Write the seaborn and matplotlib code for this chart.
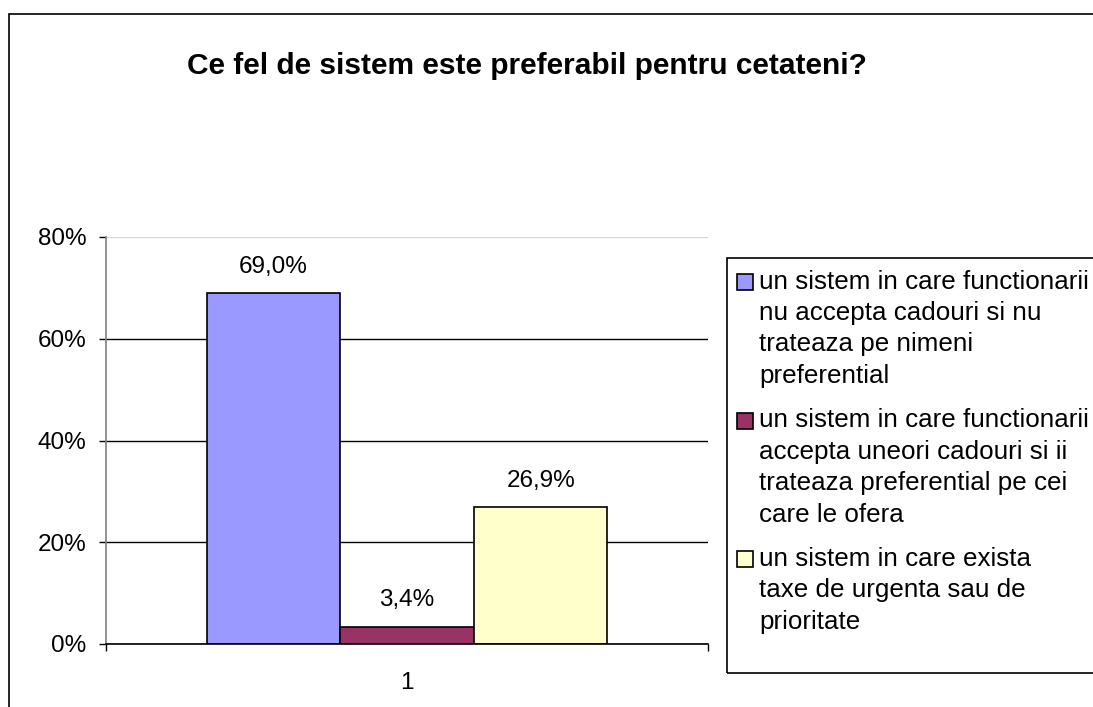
import pandas as pd
import seaborn as sns
import matplotlib.pyplot as plt
from matplotlib.patches import Rectangle
from matplotlib.ticker import PercentFormatter, FixedLocator

# Chart data
title = 'Ce fel de sistem este preferabil pentru cetateni?'
category = ['1', '1', '1']
options = [
    'un sistem in care functionarii\nnu accepta cadouri si nu\ntrateaza pe nimeni\npreferential',
    'un sistem in care functionarii\naccepta uneori cadouri si ii\ntrateaza preferential pe cei\ncare le ofera',
    'un sistem in care exista\ntaxe de urgenta sau de\nprioritate',
]
shares = [0.690, 0.034, 0.269]
value_labels = ['69,0%', '3,4%', '26,9%']
colors = ['#9999FF', '#993366', '#FFFFCC']
yticks = [0, 0.2, 0.4, 0.6, 0.8]

df = pd.DataFrame({'category': category, 'option': options, 'share': shares})

sns.set_theme(style='white')
plt.rcParams['font.family'] = ['Liberation Sans', 'DejaVu Sans']
plt.rcParams['text.color'] = 'black'
plt.rcParams['xtick.color'] = 'black'
plt.rcParams['ytick.color'] = 'black'

W, H = 1093, 707
fig = plt.figure(figsize=(W / 100, H / 100), dpi=100)


def fx(x):
    return x / W


def fy(y):
    return 1 - y / H


# outer chart border (cut off at right and bottom)
fig.patches.append(Rectangle((fx(8.5), fy(720)), fx(1100) - fx(8.5), fy(13.5) - fy(720),
                             transform=fig.transFigure, fill=False,
                             edgecolor='black', linewidth=1.2))

ax = fig.add_axes([fx(106), fy(644), fx(708) - fx(106), fy(237) - fy(644)])
sns.barplot(data=df, x='category', y='share', hue='option', palette=colors,
            saturation=1, width=0.666, gap=0, edgecolor='black', linewidth=1.2,
            legend=False, ax=ax)

for cont, lab in zip(ax.containers, value_labels):
    ax.bar_label(cont, labels=[lab], padding=11, fontsize=17.5, color='black')

ax.set_xlim(-0.5, 0.5)
ax.set_ylim(0, 0.8)
ax.yaxis.set_major_locator(FixedLocator(yticks))
ax.yaxis.set_major_formatter(PercentFormatter(1.0, decimals=0))
ax.set_xlabel('')
ax.set_ylabel('')

ax.yaxis.grid(True, color='black', linewidth=1)
ax.set_axisbelow(True)
ax.get_ygridlines()[-1].set_color('#d8d8d8')

for s in ['top', 'right']:
    ax.spines[s].set_visible(False)
ax.spines['left'].set_color('#808080')
ax.spines['left'].set_linewidth(1.2)
ax.spines['bottom'].set_color('black')
ax.spines['bottom'].set_linewidth(1.2)

ax.tick_params(axis='y', which='major', left=True, length=5, width=1,
               color='black', labelcolor='black', direction='out',
               labelsize=17.5, pad=9)
ax.tick_params(axis='x', which='major', bottom=False, labelcolor='black',
               labelsize=17.5, pad=14)
ax.xaxis.set_minor_locator(FixedLocator([-0.5, 0.5]))
ax.tick_params(axis='x', which='minor', bottom=True, length=5, width=1,
               color='black', direction='out')

fig.text(fx(527), fy(66.5), title, ha='center', va='center',
         fontsize=21.5, fontweight='bold', color='black')

# legend box
fig.patches.append(Rectangle((fx(727), fy(673)), fx(1100) - fx(727), fy(258) - fy(673),
                             transform=fig.transFigure, fill=False,
                             edgecolor='black', linewidth=1.2))
entry_baselines = [288.5, 427, 565.5]
line_step = 31.5
for lab, col, base in zip(options, colors, entry_baselines):
    fig.patches.append(Rectangle((fx(737), fy(base + 1.5)), fx(16), fy(0) - fy(16),
                                 transform=fig.transFigure, facecolor=col,
                                 edgecolor='black', linewidth=1.2))
    for j, line in enumerate(lab.split('\n')):
        fig.text(fx(759), fy(base + j * line_step), line, ha='left',
                 va='baseline', fontsize=18.7, color='black')

fig.savefig('out.png', dpi=100)
